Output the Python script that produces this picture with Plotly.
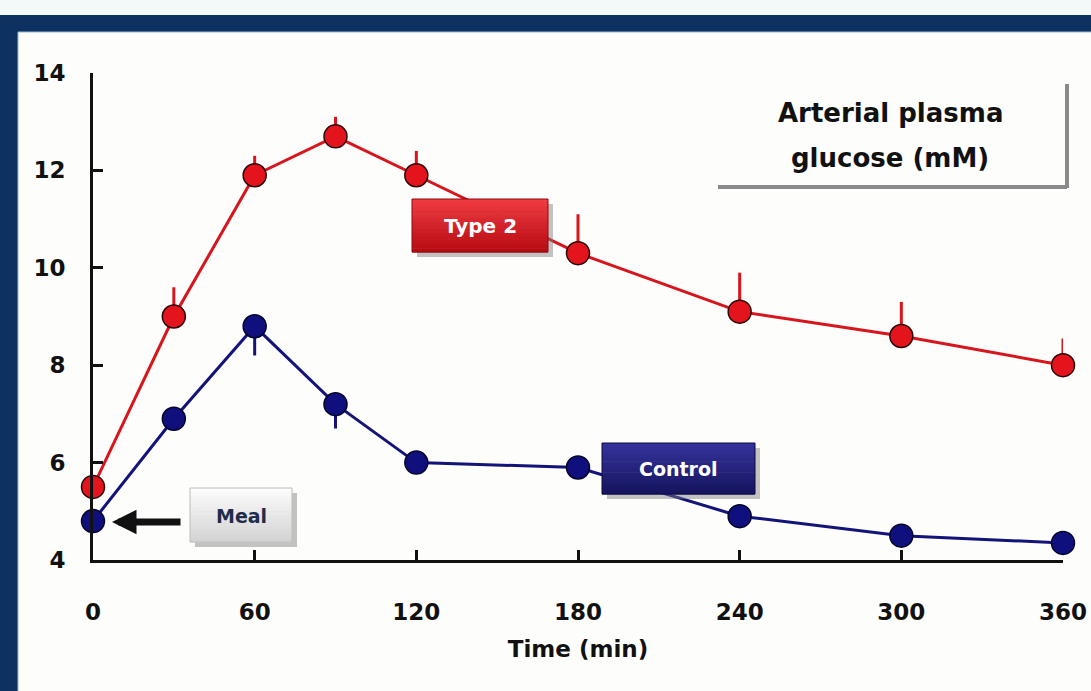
import plotly.graph_objects as go

# Sampling times after the meal (min)
time_min = [0, 30, 60, 90, 120, 180, 240, 300, 360]

# Arterial plasma glucose (mM)
type2_glucose = [5.5, 9.0, 11.9, 12.7, 11.9, 10.3, 9.1, 8.6, 8.0]
type2_sem_up = [0.2, 0.6, 0.4, 0.4, 0.5, 0.8, 0.8, 0.7, 0.55]
control_glucose = [4.8, 6.9, 8.8, 7.2, 6.0, 5.9, 4.9, 4.5, 4.35]
control_sem_down = [0.2, 0.2, 0.6, 0.5, 0.2, 0.2, 0.2, 0.2, 0.2]

x_ticks = [0, 60, 120, 180, 240, 300, 360]
y_ticks = [4, 6, 8, 10, 12, 14]

W, H = 1091, 691
L, R, T, B = 93, 28, 73, 131
FONT = "DejaVu Sans"


def px(x):
    return (x - L) / (W - L - R)


def py(y):
    return (H - B - y) / (H - T - B)


def rect(x0, y0, x1, y1, fill, line=None, lw=0, opacity=1.0):
    return dict(type="rect", xref="paper", yref="paper",
                x0=px(x0), x1=px(x1), y0=py(y1), y1=py(y0),
                fillcolor=fill, opacity=opacity,
                line=dict(color=line or fill, width=lw), layer="above")


def seg(x0, y0, x1, y1, color, width):
    return dict(type="line", xref="paper", yref="paper",
                x0=px(x0), x1=px(x1), y0=py(y0), y1=py(y1),
                line=dict(color=color, width=width), layer="above")


def hex_rgb(c):
    c = c.lstrip("#")
    return [int(c[i:i + 2], 16) for i in (0, 2, 4)]


def gradient_box(x0, y0, x1, y1, top, bottom, edge, steps=14):
    """Tag box with a drop shadow and a vertical colour gradient."""
    out = [rect(x0 + 5, y0 + 5, x1 + 5, y1 + 5, "#7a7a7a", opacity=0.45)]
    a, b = hex_rgb(top), hex_rgb(bottom)
    h = (y1 - y0) / steps
    for i in range(steps):
        t = i / (steps - 1)
        c = "#%02x%02x%02x" % tuple(round(a[k] + (b[k] - a[k]) * t) for k in range(3))
        out.append(rect(x0, y0 + i * h, x1, y0 + (i + 1) * h + 0.6, c))
    out.append(dict(type="rect", xref="paper", yref="paper",
                    x0=px(x0), x1=px(x1), y0=py(y1), y1=py(y0),
                    line=dict(color=edge, width=1), layer="above"))
    return out


def label(x, y, text, size, color):
    return dict(xref="paper", yref="paper", x=px(x), y=py(y),
                xanchor="center", yanchor="middle", showarrow=False,
                text="<b>%s</b>" % text,
                font=dict(family=FONT, size=size, color=color))


fig = go.Figure()

fig.add_trace(go.Scatter(
    x=time_min, y=type2_glucose, mode="lines+markers", name="Type 2",
    line=dict(color="#d8141c", width=3),
    marker=dict(size=23, color="#e3141c", line=dict(color="#2a0808", width=1.5)),
    error_y=dict(type="data", symmetric=False, array=type2_sem_up,
                 arrayminus=[0] * len(time_min), color="#d8141c",
                 thickness=3, width=0),
    cliponaxis=False,
))

fig.add_trace(go.Scatter(
    x=time_min, y=control_glucose, mode="lines+markers", name="Control",
    line=dict(color="#13137a", width=3),
    marker=dict(size=23, color="#0f0f7d", line=dict(color="#05052a", width=1.5)),
    error_y=dict(type="data", symmetric=False, array=[0] * len(time_min),
                 arrayminus=control_sem_down, color="#13137a",
                 thickness=3, width=0),
    cliponaxis=False,
))

shapes = [
    # slide frame
    rect(0, 0, W, 15, "#f3f9f9"),
    rect(0, 15, W, 32, "#0b3260"),
    rect(0, 15, 18, H, "#0b3260"),
    seg(18, 32, W, 32, "#9fbad0", 1),
    seg(18, 32, 18, H, "#9fbad0", 1),
    # title panel edges
    seg(1067, 84, 1067, 188, "#8a8a8a", 4),
    seg(718, 187, 1067, 187, "#8a8a8a", 4),
]
shapes += gradient_box(412, 199, 548, 252, "#ee3a40", "#b80c14", "#8e0a10")
shapes += gradient_box(602, 443, 755, 494, "#34329a", "#17155f", "#0c0b45")
shapes += gradient_box(190, 488, 292, 542, "#fbfbfb", "#d4d4d4", "#bdbdbd")

annotations = [
    label(890, 113, "Arterial plasma", 26, "#111111"),
    label(890, 158, "glucose (mM)", 26, "#111111"),
    label(480, 226, "Type 2", 20, "#ffffff"),
    label(678, 469, "Control", 19, "#ffffff"),
    label(241, 516, "Meal", 19, "#1f2d4a"),
    dict(xref="paper", yref="paper", x=px(112), y=py(522),
         ax=70, ay=0, axref="pixel", ayref="pixel", text="",
         showarrow=True, arrowhead=2, arrowsize=0.7, arrowwidth=7,
         arrowcolor="#111111"),
]

axis_font = dict(family=FONT, size=23, color="#111111", weight="bold")

fig.update_layout(
    width=W, height=H, autosize=False,
    margin=dict(l=L, r=R, t=T, b=B, pad=0, autoexpand=False),
    paper_bgcolor="#fdfdfb", plot_bgcolor="#fdfdfb",
    showlegend=False,
    shapes=shapes, annotations=annotations,
    xaxis=dict(range=[0, 360], tickvals=x_ticks, ticks="inside", ticklen=10,
               tickwidth=3, tickcolor="#111111", showline=True, linewidth=3,
               linecolor="#111111", showgrid=False, zeroline=False,
               automargin=False,
               tickfont=axis_font, ticklabelstandoff=29,
               title=dict(text="Time (min)", font=axis_font, standoff=18)),
    yaxis=dict(range=[4, 14], tickvals=y_ticks, ticks="inside", ticklen=10,
               tickwidth=3, tickcolor="#111111", showline=True, linewidth=3,
               linecolor="#111111", showgrid=False, zeroline=False,
               automargin=False,
               tickfont=axis_font, ticklabelstandoff=20),
)

fig.write_html("out.html")
